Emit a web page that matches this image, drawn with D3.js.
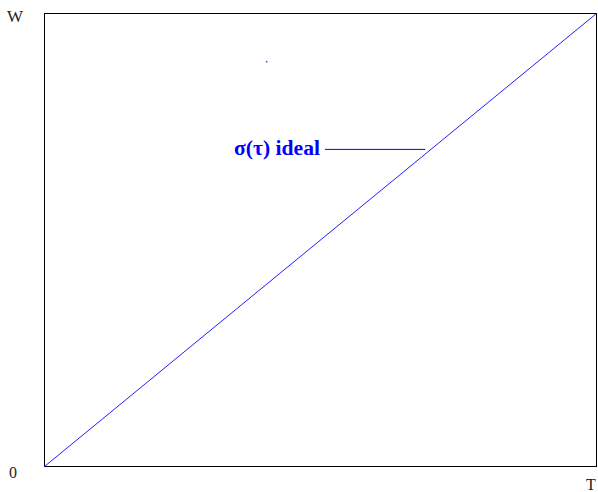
<!DOCTYPE html>
<html>
<head>
<meta charset="utf-8">
<script src="https://cdn.jsdelivr.net/npm/d3@7"></script>
<style>
  html, body { margin: 0; padding: 0; background: #fff; }
  svg { display: block; }
  .serif { font-family: "Times New Roman", "Liberation Serif", "DejaVu Serif", serif; }
</style>
</head>
<body>
<svg id="chart" width="598" height="492"></svg>
<script>
// Ideal response: sigma grows linearly from 0 to W over 0..T
const tValues = [0, 1];
const sigmaIdeal = [0, 1];
const strayPoint = [[0.402, 0.894]];
const axisLabels = { origin: "0", xEnd: "T", yEnd: "W" };
const seriesLabel = "σ(τ) ideal";
const labelAnchor = [0.69, 0.70];

const svg = d3.select("#chart");
const frame = { left: 44.5, top: 13.5, right: 596.5, bottom: 466.5 };

const x = d3.scaleLinear().domain([0, 1]).range([frame.left, frame.right]);
const y = d3.scaleLinear().domain([0, 1]).range([frame.bottom, frame.top]);

// plot frame
svg.append("rect")
  .attr("x", frame.left).attr("y", frame.top)
  .attr("width", frame.right - frame.left)
  .attr("height", frame.bottom - frame.top)
  .attr("fill", "none").attr("stroke", "#000").attr("stroke-width", 1);

// ideal line
const line = d3.line().x(d => x(d[0])).y(d => y(d[1]));
svg.append("path")
  .datum(tValues.map((t, i) => [t, sigmaIdeal[i]]))
  .attr("d", line)
  .attr("fill", "none").attr("stroke", "#2020ff").attr("stroke-width", 1);

svg.selectAll("rect.dot").data(strayPoint).join("rect")
  .attr("class", "dot")
  .attr("x", d => x(d[0]) - 0.5).attr("y", d => y(d[1]) - 0.5)
  .attr("width", 1.5).attr("height", 1.5)
  .attr("fill", "#4040ff");

// axis end labels
svg.append("text").attr("class", "serif").attr("x", 7).attr("y", 22)
  .attr("font-size", 17).attr("fill", "#222")
  .text(axisLabels.yEnd);
svg.append("text").attr("class", "serif").attr("x", 9).attr("y", 478)
  .attr("font-size", 16).attr("fill", "#222")
  .text(axisLabels.origin);
svg.append("text").attr("class", "serif").attr("x", 586).attr("y", 490)
  .attr("font-size", 16).attr("fill", "#222")
  .text(axisLabels.xEnd);

// series label with leader line
const lx = x(labelAnchor[0]), ly = y(labelAnchor[1]);
svg.append("line")
  .attr("x1", 325).attr("x2", lx)
  .attr("y1", ly).attr("y2", ly)
  .attr("stroke", "#0000ff").attr("stroke-width", 1);
svg.append("text").attr("class", "serif").attr("x", 234).attr("y", ly + 6)
  .attr("font-size", 20).attr("font-weight", "bold")
  .attr("textLength", 86).attr("lengthAdjust", "spacingAndGlyphs")
  .attr("fill", "#0000ff")
  .text(seriesLabel);
</script>
</body>
</html>
